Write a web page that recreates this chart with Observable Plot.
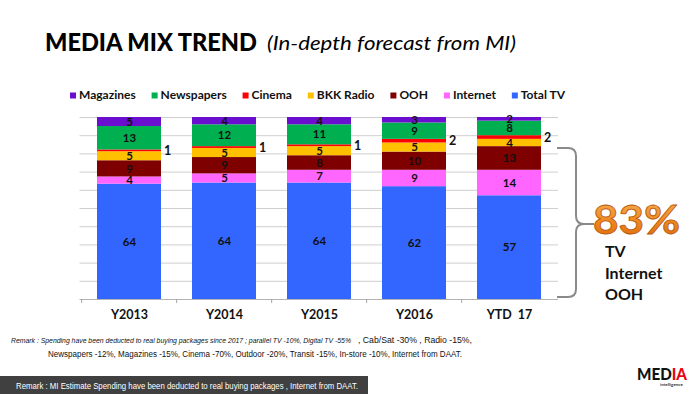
<!DOCTYPE html>
<html>
<head>
<meta charset="utf-8">
<script src="https://cdn.jsdelivr.net/npm/d3@7"></script>
<script src="https://cdn.jsdelivr.net/npm/@observablehq/plot@0.6"></script>
<style>
  html, body { margin: 0; padding: 0; background: #fff; }
  #page { position: relative; width: 700px; height: 394px; overflow: hidden; font-family: Lato, "DejaVu Sans", sans-serif; }
  #chart { position: absolute; left: 0; top: 100px; }
  #overlay { position: absolute; left: 0; top: 0; pointer-events: none; }
  #chart svg text { white-space: pre; }
</style>
</head>
<body>
<div id="page">
  <div id="chart"></div>
  <svg id="overlay" width="700" height="394"></svg>
</div>
<script>
// ---- data ----
const years = ["Y2013", "Y2014", "Y2015", "Y2016", "YTD  17"];
const legendOrder = ["Magazines", "Newspapers", "Cinema", "BKK Radio", "OOH", "Internet", "Total TV"];
const legendColors = ["#6a0fd0", "#00b050", "#ff0000", "#ffc000", "#7f0000", "#ff66ff", "#3366ff"];
const stackOrder = ["Total TV", "Internet", "OOH", "BKK Radio", "Cinema", "Newspapers", "Magazines"];

const totalTV    = [64, 64, 64, 62, 57];
const internet   = [4, 5, 7, 9, 14];
const ooh        = [9, 9, 8, 10, 13];
const bkkRadio   = [5, 5, 5, 5, 4];
const cinema     = [1, 1, 1, 2, 2];
const newspapers = [13, 12, 11, 9, 8];
const magazines  = [5, 4, 4, 3, 2];

const seriesValues = {
  "Total TV": totalTV, "Internet": internet, "OOH": ooh, "BKK Radio": bkkRadio,
  "Cinema": cinema, "Newspapers": newspapers, "Magazines": magazines
};
const highlightShare = "83%";
const highlightLines = ["TV", "Internet", "OOH"];
const remark1Italic = "Remark : Spending have been deducted  to real buying  packages  since 2017 ; parallel TV -10%, Digital TV -55%";
const remark1Rest = ", Cab/Sat  -30% , Radio  -15%,";
const remark2 = "Newspapers  -12%, Magazines  -15%, Cinema  -70%, Outdoor  -20%, Transit  -15%, In-store  -10%, Internet from DAAT.";
const remark3 = "Remark : MI Estimate Spending have been deducted  to real buying  packages , Internet from DAAT.";

// ---- table ----
const rows = [];
years.forEach((yr, i) => {
  stackOrder.forEach(s => rows.push({ year: yr, series: s, value: seriesValues[s][i] }));
});

const W = 700, H = 230, mL = 79.5, mR = 142, mT = 17, mB = 31;
const step = (W - mL - mR) / years.length;

const stackOpts = { offset: "normalize", order: stackOrder, x: "year", y: "value", z: "series" };

const chart = Plot.plot({
  width: W, height: H,
  marginLeft: mL, marginRight: mR, marginTop: mT, marginBottom: mB,
  x: { domain: years, paddingInner: 0.33, paddingOuter: 0.165, label: null },
  y: { domain: [0, 1], axis: null },
  color: { domain: legendOrder, range: legendColors },
  style: { fontFamily: "Lato, 'DejaVu Sans', sans-serif", overflow: "visible", background: "transparent" },
  marks: [
    Plot.ruleY(d3.ticks(0, 1, 10).slice(1), { stroke: "#cfcfcf", strokeWidth: 1 }),
    Plot.barY(rows, Plot.stackY({ ...stackOpts, fill: "series" })),
    Plot.ruleY([0], { stroke: "#b3b3b3", strokeWidth: 1.2 }),
    Plot.axisX({ tickSize: 4, tickFormat: () => "", dx: -step / 2, stroke: "#a6a6a6" }),
    Plot.axisX({ tickSize: 0, tickPadding: 11, fontSize: 12.5, fontWeight: "bold", fill: "#111", stroke: "none" }),
    Plot.text(rows, Plot.stackY({
      ...stackOpts,
      text: d => d.series === "Cinema" ? "" : String(d.value),
      fontSize: 11.5, fontWeight: "bold", fill: "#111"
    })),
    Plot.text(rows, Plot.stackY({
      ...stackOpts,
      text: d => d.series === "Cinema" ? String(d.value) : "",
      dx: 38, fontSize: 12.5, fontWeight: "bold", fill: "#111"
    }))
  ]
});
document.getElementById("chart").appendChild(chart);

// ---- overlay texts ----
const ov = d3.select("#overlay");

// title
ov.append("text").attr("x", 45).attr("y", 51)
  .style("font-family", "Lato, sans-serif").style("font-weight", 900).style("font-size", "25px").attr("fill", "#000")
  .attr("textLength", 212).attr("lengthAdjust", "spacingAndGlyphs")
  .text("MEDIA MIX TREND");
ov.append("text").attr("x", 267).attr("y", 50)
  .style("font-family", "Lato, sans-serif").style("font-style", "italic").style("font-size", "18.5px").attr("fill", "#000")
  .attr("textLength", 249).attr("lengthAdjust", "spacingAndGlyphs")
  .text("(In-depth forecast from MI)");

// legend (space-between layout)
const legendG = ov.append("g").style("font-family", "Lato, sans-serif").style("font-weight", "bold").style("font-size", "12px");
const items = legendOrder.map((name, i) => {
  const g = legendG.append("g");
  g.append("rect").attr("width", 6).attr("height", 6).attr("y", -6.5).attr("fill", legendColors[i]);
  const t = g.append("text").attr("x", 9).attr("fill", "#111").text(name);
  return { g, w: 9 + t.node().getComputedTextLength() };
});
const lx0 = 70, lx1 = 565;
const totalW = d3.sum(items, d => d.w);
const gap = (lx1 - lx0 - totalW) / (items.length - 1);
let cx = lx0;
items.forEach(it => { it.g.attr("transform", `translate(${cx},99)`); cx += it.w + gap; });

// bracket
ov.append("path")
  .attr("d", "M557,148 H568 Q576,148 576,156 V216 Q576,224 584,224 H594 M584,224 Q576,224 576,232 V289 Q576,297 568,297 H557")
  .attr("fill", "none").attr("stroke", "#8a8a8a").attr("stroke-width", 2);

// 83%
const defs = ov.append("defs");
const grad = defs.append("linearGradient").attr("id", "og").attr("x1", 0).attr("y1", 0).attr("x2", 0).attr("y2", 1);
grad.append("stop").attr("offset", "0%").attr("stop-color", "#f8b45a");
grad.append("stop").attr("offset", "55%").attr("stop-color", "#ee8a22");
grad.append("stop").attr("offset", "100%").attr("stop-color", "#d9650a");
ov.append("text").attr("x", 593).attr("y", 234)
  .style("font-family", "Lato, sans-serif").style("font-weight", "bold").style("font-size", "41px")
  .attr("fill", "url(#og)").attr("stroke", "#b8560a").attr("stroke-width", 0.8)
  .attr("textLength", 87).attr("lengthAdjust", "spacingAndGlyphs")
  .text(highlightShare);
highlightLines.forEach((s, i) => {
  ov.append("text").attr("x", 605).attr("y", 257 + i * 21.5)
    .style("font-family", "Lato, sans-serif").style("font-weight", "bold").style("font-size", "16px")
    .attr("fill", "#111").text(s);
});

// remarks
const remFont = "'Liberation Sans Narrow', 'Liberation Sans', sans-serif";
ov.append("text").attr("x", 11).attr("y", 343)
  .style("font-family", remFont).style("font-size", "8px").style("font-style", "italic").attr("fill", "#111")
  .attr("textLength", 340).attr("lengthAdjust", "spacingAndGlyphs")
  .text(remark1Italic);
ov.append("text").attr("x", 358).attr("y", 343)
  .style("font-family", remFont).style("font-size", "8.5px").attr("fill", "#111")
  .attr("textLength", 114).attr("lengthAdjust", "spacingAndGlyphs")
  .text(remark1Rest);
ov.append("text").attr("x", 48).attr("y", 357)
  .style("font-family", remFont).style("font-size", "8.5px").attr("fill", "#111")
  .attr("textLength", 414).attr("lengthAdjust", "spacingAndGlyphs")
  .text(remark2);

// bottom box
ov.append("rect").attr("x", 0).attr("y", 376).attr("width", 368).attr("height", 18).attr("fill", "#404040");
ov.append("text").attr("x", 16).attr("y", 388.5)
  .style("font-family", remFont).style("font-size", "9px").attr("fill", "#fff")
  .attr("textLength", 342).attr("lengthAdjust", "spacingAndGlyphs")
  .text(remark3);

// logo
const logo = ov.append("text").attr("x", 637).attr("y", 380)
  .style("font-family", "Lato, sans-serif").style("font-weight", 900).style("font-size", "16px")
  .attr("textLength", 50).attr("lengthAdjust", "spacingAndGlyphs");
logo.append("tspan").attr("fill", "#111").text("MED");
logo.append("tspan").attr("fill", "#e30613").text("IA");
ov.append("text").attr("x", 660).attr("y", 386)
  .style("font-family", "Lato, sans-serif").style("font-weight", "bold").style("font-size", "4.5px").attr("fill", "#333")
  .text("intelligence");
</script>
</body>
</html>
